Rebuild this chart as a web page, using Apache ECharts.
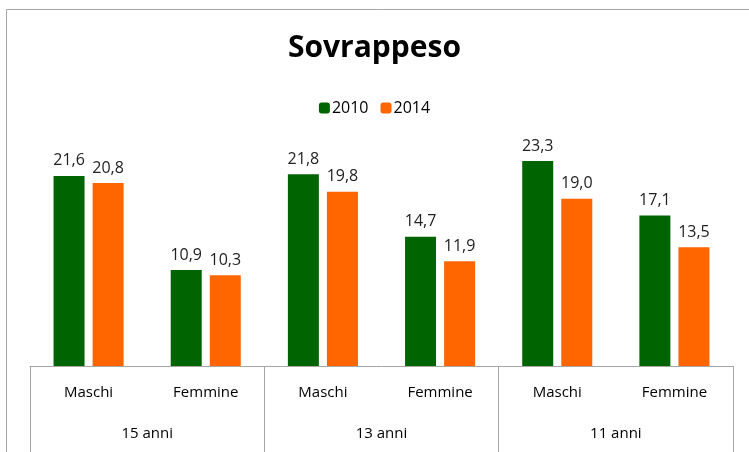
<!DOCTYPE html>
<html>
<head>
<meta charset="utf-8">
<script src="https://cdn.jsdelivr.net/npm/echarts@6/dist/echarts.min.js"></script>
<style>
  html, body { margin: 0; padding: 0; background: #fff; }
  #chart { width: 749px; height: 452px; }
</style>
</head>
<body>
<div id="chart"></div>
<script>
// dati
const sessi = ['Maschi', 'Femmine', 'Maschi', 'Femmine', 'Maschi', 'Femmine'];
const eta = ['15 anni', '13 anni', '11 anni'];
const valori2010 = [21.6, 10.9, 21.8, 14.7, 23.3, 17.1];
const valori2014 = [20.8, 10.3, 19.8, 11.9, 19.0, 13.5];

const font = 'Open Sans';
const lineColor = '#a6a6a6';

function virgola(p) {
    return p.value.toFixed(1).replace('.', ',');
}

const chart = echarts.init(document.getElementById('chart'));

const option = {
    animation: false,
    textStyle: { fontFamily: font },
    title: {
        text: 'Sovrappeso',
        left: 'center',
        top: 28,
        textStyle: { fontSize: 30, fontWeight: 'bold', color: '#000', fontFamily: font }
    },
    legend: {
        top: 95,
        left: 'center',
        itemWidth: 11,
        itemHeight: 11,
        itemGap: 12,
        textStyle: { fontSize: 16, color: '#000', fontFamily: font, padding: [0, 0, 0, -3] },
        data: ['2010', '2014']
    },
    graphic: [{
        type: 'rect',
        shape: { x: 6.5, y: 9.5, width: 800, height: 500 },
        style: { fill: 'none', stroke: lineColor, lineWidth: 1 },
        silent: true
    }],
    grid: { left: 30, right: 16, top: 102, bottom: 86, containLabel: false },
    xAxis: [
        {
            type: 'category',
            data: sessi,
            axisLine: { show: true, lineStyle: { color: lineColor } },
            axisTick: { show: false },
            axisLabel: { margin: 19, fontSize: 15, color: '#000', fontFamily: font, interval: 0 }
        },
        {
            type: 'category',
            data: eta,
            position: 'bottom',
            axisLine: { show: false },
            axisTick: { show: true, length: 86, lineStyle: { color: lineColor } },
            axisLabel: { margin: 60, fontSize: 15, color: '#000', fontFamily: font }
        }
    ],
    yAxis: {
        type: 'value',
        min: 0,
        max: 30,
        show: false,
        splitLine: { show: false }
    },
    series: [
        {
            name: '2010',
            type: 'bar',
            data: valori2010,
            barWidth: 31,
            barGap: '26%',
            itemStyle: { color: '#006400' },
            label: { show: true, position: 'top', distance: 7, fontSize: 16, color: '#222', fontFamily: font, formatter: virgola }
        },
        {
            name: '2014',
            type: 'bar',
            data: valori2014,
            barWidth: 31,
            barGap: '26%',
            itemStyle: { color: '#ff6600' },
            label: { show: true, position: 'top', distance: 7, fontSize: 16, color: '#222', fontFamily: font, formatter: virgola }
        }
    ]
};

chart.setOption(option);
window.addEventListener('resize', function () {
    chart.resize();
});
</script>
</body>
</html>
